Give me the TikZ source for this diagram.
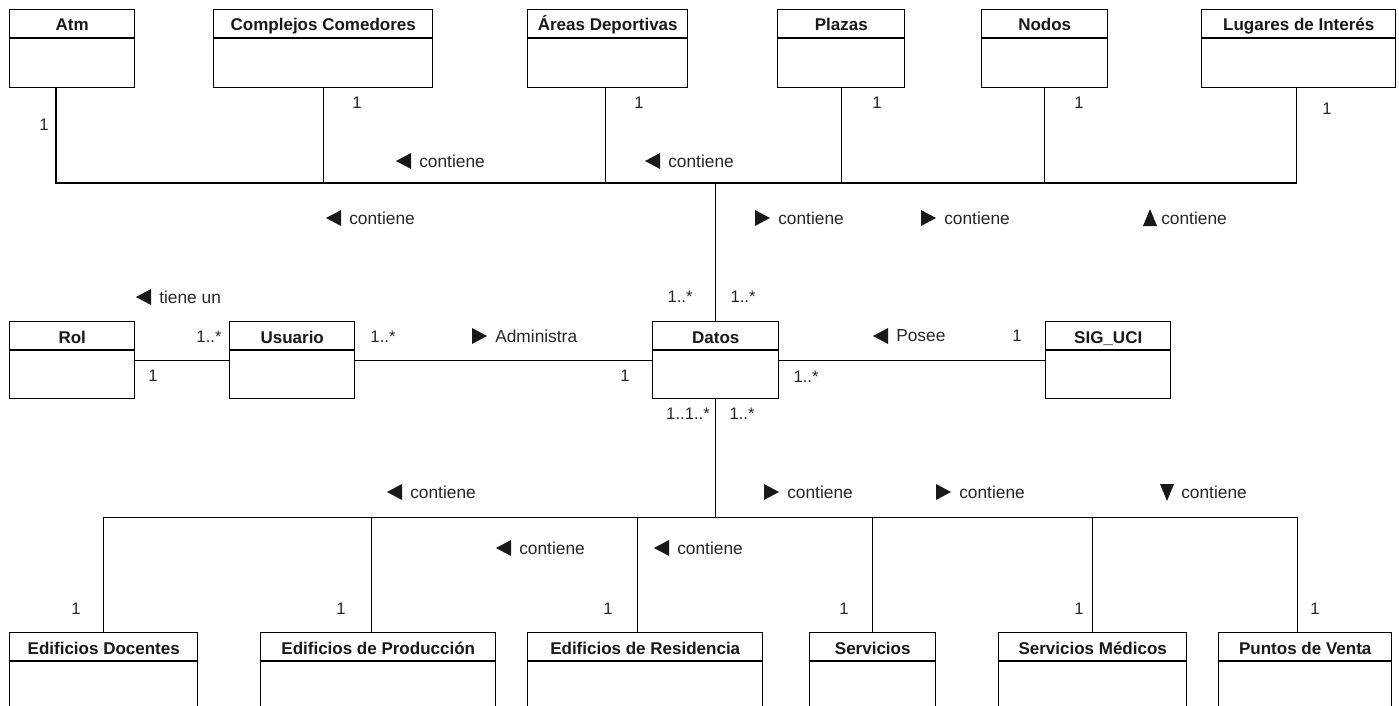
\documentclass[tikz,border=0pt]{standalone}
\usepackage{fontspec}
\setmainfont{Liberation Sans}
\usetikzlibrary{calc}
\tikzset{
  cls/.style={draw, line width=1.1pt, inner sep=0pt},
  hdr/.style={line width=1.1pt},
  conn/.style={line width=0.9pt},
  ttl/.style={font=\bfseries\fontsize{12.75}{14}\selectfont, inner sep=0pt, anchor=base, text=black!90},
  lbl/.style={font=\fontsize{13}{15}\selectfont, inner sep=0pt, anchor=west, text=black!85},
  mult/.style={font=\fontsize{12.5}{14}\selectfont, inner sep=0pt, text=black!85},
  tri/.style={fill=black!90},
}
% name, x1, y1, x2, y2, title
\newcommand{\umlcls}[6]{%
  \node[cls, anchor=north west, minimum width={(#4-#2)*0.75pt}, minimum height={(#5-#3)*0.75pt}] (#1) at (#2,#3) {};
  \draw[hdr] ($(#1.north west)+(0,29)$) -- ($(#1.north east)+(0,29)$);
  \node[ttl] (#1-t) at ($(#1.north)+(0,22)$) {#6};
}
\newcommand{\labL}[4]{\fill[tri] (#2,#3) -- (#2+15,#3-8) -- (#2+15,#3+8) -- cycle; \node[lbl] (#1) at (#2+23,#3) {#4};}
\newcommand{\labR}[4]{\fill[tri] (#2+15,#3) -- (#2,#3-8) -- (#2,#3+8) -- cycle; \node[lbl] (#1) at (#2+23,#3) {#4};}
\newcommand{\labU}[4]{\fill[tri] (#2+7,#3-9) -- (#2,#3+8) -- (#2+14,#3+8) -- cycle; \node[lbl] (#1) at (#2+18,#3) {#4};}
\newcommand{\labD}[4]{\fill[tri] (#2+7,#3+9) -- (#2,#3-8) -- (#2+14,#3-8) -- cycle; \node[lbl] (#1) at (#2+21,#3) {#4};}
\begin{document}
\begin{tikzpicture}[x=0.75pt, y=-0.75pt]
\useasboundingbox (0,0) rectangle (1399,706);
\fill[white] (0,0) rectangle (1399,706);
\clip (0,0) rectangle (1399,706);

% top row
\umlcls{atm}{9}{9}{134}{87}{Atm}
\umlcls{cc}{213}{9}{432}{87}{Complejos Comedores}
\umlcls{ad}{527}{9}{687}{87}{Áreas Deportivas}
\umlcls{pl}{777}{9}{904}{87}{Plazas}
\umlcls{no}{981}{9}{1107}{87}{Nodos}
\umlcls{li}{1201}{9}{1395}{87}{Lugares de Interés}

% middle row
\umlcls{rol}{9}{321}{134}{398}{Rol}
\umlcls{usu}{229}{321}{354}{398}{Usuario}
\umlcls{dat}{652}{321}{778}{398}{Datos}
\umlcls{sig}{1045}{321}{1170}{398}{SIG\_UCI}

% bottom row
\umlcls{ed}{9}{632}{197}{780}{Edificios Docentes}
\umlcls{ep}{260}{632}{495}{780}{Edificios de Producción}
\umlcls{er}{527}{632}{762}{780}{Edificios de Residencia}
\umlcls{se}{809}{632}{935}{780}{Servicios}
\umlcls{sm}{998}{632}{1186}{780}{Servicios Médicos}
\umlcls{pv}{1218}{632}{1391}{780}{Puntos de Venta}

% junctions
\path (dat.north) ++(0,-138) coordinate (jt);
\path (dat.south) ++(0,118) coordinate (jb);

% top tree
\draw[conn] (dat.north) -- (jt);
\draw[conn] (atm.south west) ++(47,0) |- (jt);
\draw[conn] (cc.south) |- (jt);
\draw[conn] (ad.south) ++(-2,0) |- (jt);
\draw[conn] (pl.south) |- (jt);
\draw[conn] (no.south) |- (jt);
\draw[conn] (li.south) ++(-2,0) |- (jt);

% bottom tree
\draw[conn] (dat.south) -- (jb);
\draw[conn] (ed.north) |- (jb);
\draw[conn] (ep.north) ++(-7,0) |- (jb);
\draw[conn] (er.north) ++(-8,0) |- (jb);
\draw[conn] (se.north) |- (jb);
\draw[conn] (sm.north) |- (jb);
\draw[conn] (pv.north) ++(-8,0) |- (jb);

% middle links
\draw[conn] (rol.east) -- (usu.west);
\draw[conn] (usu.east) -- (dat.west);
\draw[conn] (dat.east) -- (sig.west);

% association labels
\labL{l1}{396}{161}{contiene}
\labL{l2}{645}{161}{contiene}
\labL{l3}{326}{218}{contiene}
\labR{l4}{755}{218}{contiene}
\labR{l5}{921}{218}{contiene}
\labU{l6}{1143}{218}{contiene}
\labL{l7}{136}{297}{tiene un}
\labR{l8}{472}{336}{Administra}
\labL{l9}{873}{336}{Posee}
\labL{l10}{387}{492}{contiene}
\labR{l11}{764}{492}{contiene}
\labR{l12}{936}{492}{contiene}
\labD{l13}{1160}{492}{contiene}
\labL{l14}{496}{548}{contiene}
\labL{l15}{654}{548}{contiene}

% multiplicities top
\node[mult] (mt1) at (44,125) {1};
\node[mult] (mt2) at (357,103) {1};
\node[mult] (mt3) at (639,103) {1};
\node[mult] (mt4) at (877,103) {1};
\node[mult] (mt5) at (1079,103) {1};
\node[mult] (mt6) at (1327,109) {1};

% multiplicities middle
\node[mult] (mm1) at (209,337) {1..*};
\node[mult] (mm2) at (153,376) {1};
\node[mult] (mm3) at (383,337) {1..*};
\node[mult] (mm4) at (625,376) {1};
\node[mult] (mm5) at (680,297) {1..*};
\node[mult] (mm6) at (743,297) {1..*};
\node[mult] (mm7) at (1017,336) {1};
\node[mult] (mm8) at (806,377) {1..*};
\node[mult] (mm9) at (688,414) {1..1..*};
\node[mult] (mm10) at (742,414) {1..*};

% multiplicities bottom
\node[mult] (mb1) at (76,609) {1};
\node[mult] (mb2) at (341,609) {1};
\node[mult] (mb3) at (608,609) {1};
\node[mult] (mb4) at (844,609) {1};
\node[mult] (mb5) at (1079,609) {1};
\node[mult] (mb6) at (1315,609) {1};
\end{tikzpicture}
\end{document}
